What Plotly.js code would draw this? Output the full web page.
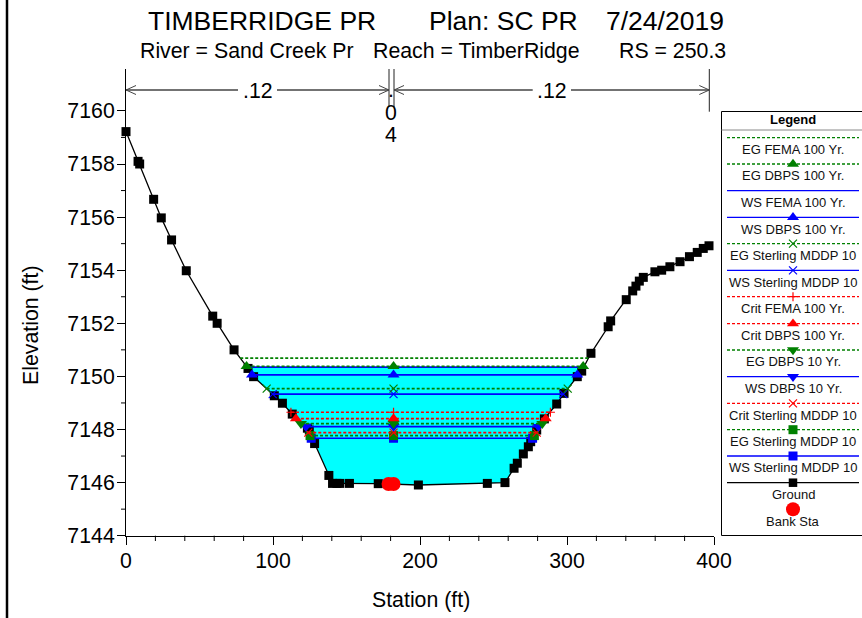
<!DOCTYPE html>
<html><head><meta charset="utf-8">
<script src="https://cdn.plot.ly/plotly-3.0.1.min.js"></script>
<style>html,body{margin:0;padding:0;background:#fff}</style></head>
<body><div id="chart" style="width:862px;height:618px"></div>
<script>
var groundX = [0,8.2,9.3,18.8,24,31,41,59,62,73.5,83,86.8,100.9,106.4,113.1,123.4,124.7,128.3,138,140.5,143.5,145.5,152,171.6,198.9,245.8,257.8,264,266.2,270.3,273.7,275.3,279.4,284.6,293,298,307,310,316.3,328,329.7,340.3,344.7,346.9,349.2,351.9,359.8,364.4,370,376.9,383.3,388.6,392.7,396.6];
var groundY = [7159.22,7158.1,7158,7156.67,7155.97,7155.14,7153.98,7152.27,7152,7151,7150.3,7149.99,7149.27,7148.99,7148.58,7148.05,7147.98,7147.47,7146.27,7145.97,7145.97,7145.97,7145.97,7145.96,7145.91,7145.97,7146,7146.54,7146.73,7147.08,7147.35,7147.54,7147.98,7148.4,7148.96,7149.36,7149.99,7150.2,7150.87,7151.87,7152.09,7152.89,7153.22,7153.4,7153.59,7153.73,7153.94,7154,7154.13,7154.32,7154.51,7154.67,7154.82,7154.92];
var bankX = [178.6,182];
var bankY = [7145.95,7145.95];
var waterX = [82.4,311,310,307,298,293,284.6,279.4,275.3,273.7,270.3,266.2,264,257.8,245.8,198.9,171.6,152,145.5,140.5,138,128.3,124.7,123.4,113.1,106.4,100.9,86.8];
var waterY = [7150.35,7150.35,7150.2,7149.99,7149.36,7148.96,7148.4,7147.98,7147.54,7147.35,7147.08,7146.73,7146.54,7146,7145.97,7145.91,7145.96,7145.97,7145.97,7145.97,7146.27,7147.47,7147.98,7148.05,7148.58,7148.99,7149.27,7149.99];
var seriesNames = ["EG FEMA 100 Yr.","EG DBPS 100 Yr.","WS FEMA 100 Yr.","WS DBPS 100 Yr.","EG Sterling MDDP 10","WS Sterling MDDP 10","Crit FEMA 100 Yr.","Crit DBPS 100 Yr.","EG DBPS 10 Yr.","WS DBPS 10 Yr.","Crit Sterling MDDP 10","EG Sterling MDDP 10","WS Sterling MDDP 10"];
var levels = [7150.69,7150.38,7150.35,7150.06,7149.54,7149.33,7148.65,7148.41,7148.22,7148.11,7147.88,7147.77,7147.67];
var leftStations = [77.7,82,82.4,85.7,95.7,99.8,112.2,115.6,119,122.4,124,125.2,126];
var rightStations = [314.6,311,311,307,300.5,297.5,288.7,285.5,283.2,280.5,279.4,277.8,276.6];
var centerStation = 182;
var seriesColors = ["#008000","#008000","#0000ff","#0000ff","#008000","#0000ff","#ff0000","#ff0000","#008000","#0000ff","#ff0000","#008000","#0000ff"];
var seriesDash = ["dash","dash","solid","solid","dash","solid","dash","dash","dash","solid","dash","dash","solid"];
var seriesSymbols = [null,"triangle-up",null,"triangle-up","x-thin-open","x-thin-open","cross-thin-open","triangle-up","triangle-down","triangle-down","x-thin-open","square","square"];
var seriesMarkerSize = [0,10.5,0,10.5,8,8,6.5,10.5,10.5,10.5,8,9,9];
var xTickVals = [0,100,200,300,400];
var yTickVals = [7144,7146,7148,7150,7152,7154,7156,7158,7160];
var xMinorVals = [20,40,60,80,120,140,160,180,220,240,260,280,320,340,360,380];
var yMinorVals = [7145,7147,7149,7151,7153,7155,7157,7159];
var FONT = "Liberation Sans, Arial, sans-serif";
var W = 862, H = 618;
var X0 = 126, X1 = 714, YB = 535.7, YT = 69;
var YMIN = 7144, YMAX = 7144 + (YB - YT) / 26.55;
function px(x){return x/W;} function py(y){return 1-y/H;}

var traces = [];
traces.push({x:waterX,y:waterY,mode:'lines',fill:'toself',fillcolor:'#00ffff',line:{width:0},hoverinfo:'skip',showlegend:false});
traces.push({x:groundX,y:groundY,mode:'lines+markers',line:{color:'#000',width:1.3},marker:{symbol:'square',size:9,color:'#000'},showlegend:false,cliponaxis:false});
traces.push({x:bankX,y:bankY,mode:'markers',marker:{symbol:'circle',size:14,color:'#ff0000'},showlegend:false});
for (var i = seriesNames.length-1; i >= 0; i--) {
  traces.push({x:[leftStations[i],rightStations[i]],y:[levels[i],levels[i]],mode:'lines',
    line:{color:seriesColors[i],width:1.7,dash:seriesDash[i]==='dash'?'3px,2px':'solid'},showlegend:false});
  if (seriesSymbols[i]) {
    var open = seriesSymbols[i].indexOf('open')>=0;
    traces.push({x:[leftStations[i],centerStation,rightStations[i]],y:[levels[i],levels[i],levels[i]],mode:'markers',
      marker:{symbol:seriesSymbols[i],size:seriesMarkerSize[i],color:seriesColors[i],line:{color:seriesColors[i],width:open?1.2:0}},showlegend:false});
  }
}
var legendLineRow = [137.7,164,190.7,217.3,243.7,270.3,296.7,323.7,350,376.7,403.3,429.7,456,482.7];
var legendNames = seriesNames.concat(["Ground"]);
var legendColors = seriesColors.concat(["#000000"]);
var legendDash = seriesDash.concat(["solid"]);
var legendSymbols = seriesSymbols.concat(["square"]);
var legendSizes = seriesMarkerSize.concat([8.5]);
var anns = [], shapes = [];
for (var j=0;j<legendNames.length;j++){
  var yy = legendLineRow[j];
  traces.push({x:[727,859],y:[yy,yy],xaxis:'x2',yaxis:'y2',mode:'lines',line:{color:legendColors[j],width:1.3,dash:legendDash[j]==='dash'?'3px,2px':'solid'},showlegend:false});
  if (legendSymbols[j]) {
    var o2 = legendSymbols[j].indexOf('open')>=0;
    traces.push({x:[793],y:[yy],xaxis:'x2',yaxis:'y2',mode:'markers',marker:{symbol:legendSymbols[j],size:legendSizes[j],color:legendColors[j],line:{color:legendColors[j],width:o2?1.2:0}},showlegend:false});
  }
  anns.push({xref:'paper',yref:'paper',x:px(793),y:py(yy+11.7),text:legendNames[j],showarrow:false,xanchor:'center',yanchor:'middle',font:{family:FONT,size:13,color:'#111'}});
}
traces.push({x:[793],y:[509.3],xaxis:'x2',yaxis:'y2',mode:'markers',marker:{symbol:'circle',size:14,color:'#ff0000'},showlegend:false});
anns.push({xref:'paper',yref:'paper',x:px(793),y:py(521.3),text:'Bank Sta',showarrow:false,xanchor:'center',yanchor:'middle',font:{family:FONT,size:13,color:'#111'}});
anns.push({xref:'paper',yref:'paper',x:px(793),y:py(119.5),text:'<b>Legend</b>',showarrow:false,xanchor:'center',yanchor:'middle',font:{family:FONT,size:13,color:'#000'}});

function txt(x,y,t,size,anchor,rot){anns.push({xref:'paper',yref:'paper',x:px(x),y:py(y),text:t,showarrow:false,xanchor:anchor||'center',yanchor:'middle',textangle:rot||0,font:{family:FONT,size:size,color:'#000'}});}
txt(146,21,'TIMBERRIDGE PR',26.5,'left');
txt(427,21,'Plan: SC PR',26.5,'left');
txt(604,21,'7/24/2019',26.5,'left');
txt(138,51,'River = Sand Creek Pr',21.3,'left');
txt(371,51,'Reach = TimberRidge',21.3,'left');
txt(617,51,'RS = 250.3',21.3,'left');
txt(421,600,'Station (ft)',21.3);
txt(31,325,'Elevation (ft)',21.3,'center',-90);
txt(257.7,91,'.12',21.3);
txt(551.7,91,'.12',21.3);
txt(390.7,90,'.',21.3);
txt(390.7,113,'0',21.3);
txt(390.7,135,'4',21.3);

function ln(x0,y0,x1,y1,c,w){shapes.push({type:'line',xref:'paper',yref:'paper',x0:px(x0),y0:py(y0),x1:px(x1),y1:py(y1),line:{color:c||'#000',width:w||1}});}
ln(7,0,7,618,'#000',2.5);
shapes.push({type:'rect',xref:'paper',yref:'paper',x0:px(721.5),x1:px(866),y0:py(111.5),y1:py(535.5),line:{color:'#000',width:1},fillcolor:'rgba(0,0,0,0)'});
ln(721.5,130,862,130,'#888',1);
ln(389,69,389,107,'#222',1); ln(394,69,394,107,'#222',1); ln(709.3,69,709.3,111.7,'#222',1);
[[126,238],[277,389],[394,532.7],[571,709.3]].forEach(function(s){ln(s[0],90,s[1],90,'#444',1.5);});
[[126,1],[389,-1],[394,1],[709.3,-1]].forEach(function(a){ln(a[0],90,a[0]+a[1]*10,85.5,'#444',1);ln(a[0],90,a[0]+a[1]*10,94.5,'#444',1);});
xMinorVals.forEach(function(v){var p=X0+v*1.47;ln(p,535.7,p,541,'#000',1);});
yMinorVals.forEach(function(v){var p=YB-(v-7144)*26.55;ln(121,p,126,p,'#000',1);});

var layout = {
  width:W,height:H,margin:{l:0,r:0,t:0,b:0},paper_bgcolor:'#fff',plot_bgcolor:'#fff',showlegend:false,
  xaxis:{domain:[X0/W,X1/W],range:[0,400],anchor:'y',tickmode:'array',tickvals:xTickVals,ticks:'outside',ticklen:8,tickwidth:1,tickcolor:'#000',ticklabelstandoff:-2,showgrid:false,zeroline:false,showline:true,linecolor:'#000',linewidth:1,tickfont:{family:FONT,size:21.3,color:'#000'}},
  yaxis:{domain:[1-YB/H,1-YT/H],range:[YMIN,YMAX],anchor:'x',tickmode:'array',tickvals:yTickVals,tickformat:'d',ticks:'outside',ticklen:8,tickwidth:1,tickcolor:'#000',ticklabelstandoff:-2,showgrid:false,zeroline:false,showline:true,linecolor:'#000',linewidth:1,tickfont:{family:FONT,size:21.3,color:'#000'}},
  xaxis2:{domain:[721/W,862/W],range:[721,862],anchor:'y2',visible:false,fixedrange:true},
  yaxis2:{domain:[1-536/H,1-111/H],range:[536,111],anchor:'x2',visible:false,fixedrange:true},
  annotations:anns,shapes:shapes
};
Plotly.newPlot('chart',traces,layout,{displayModeBar:false,staticPlot:true});
</script></body></html>
